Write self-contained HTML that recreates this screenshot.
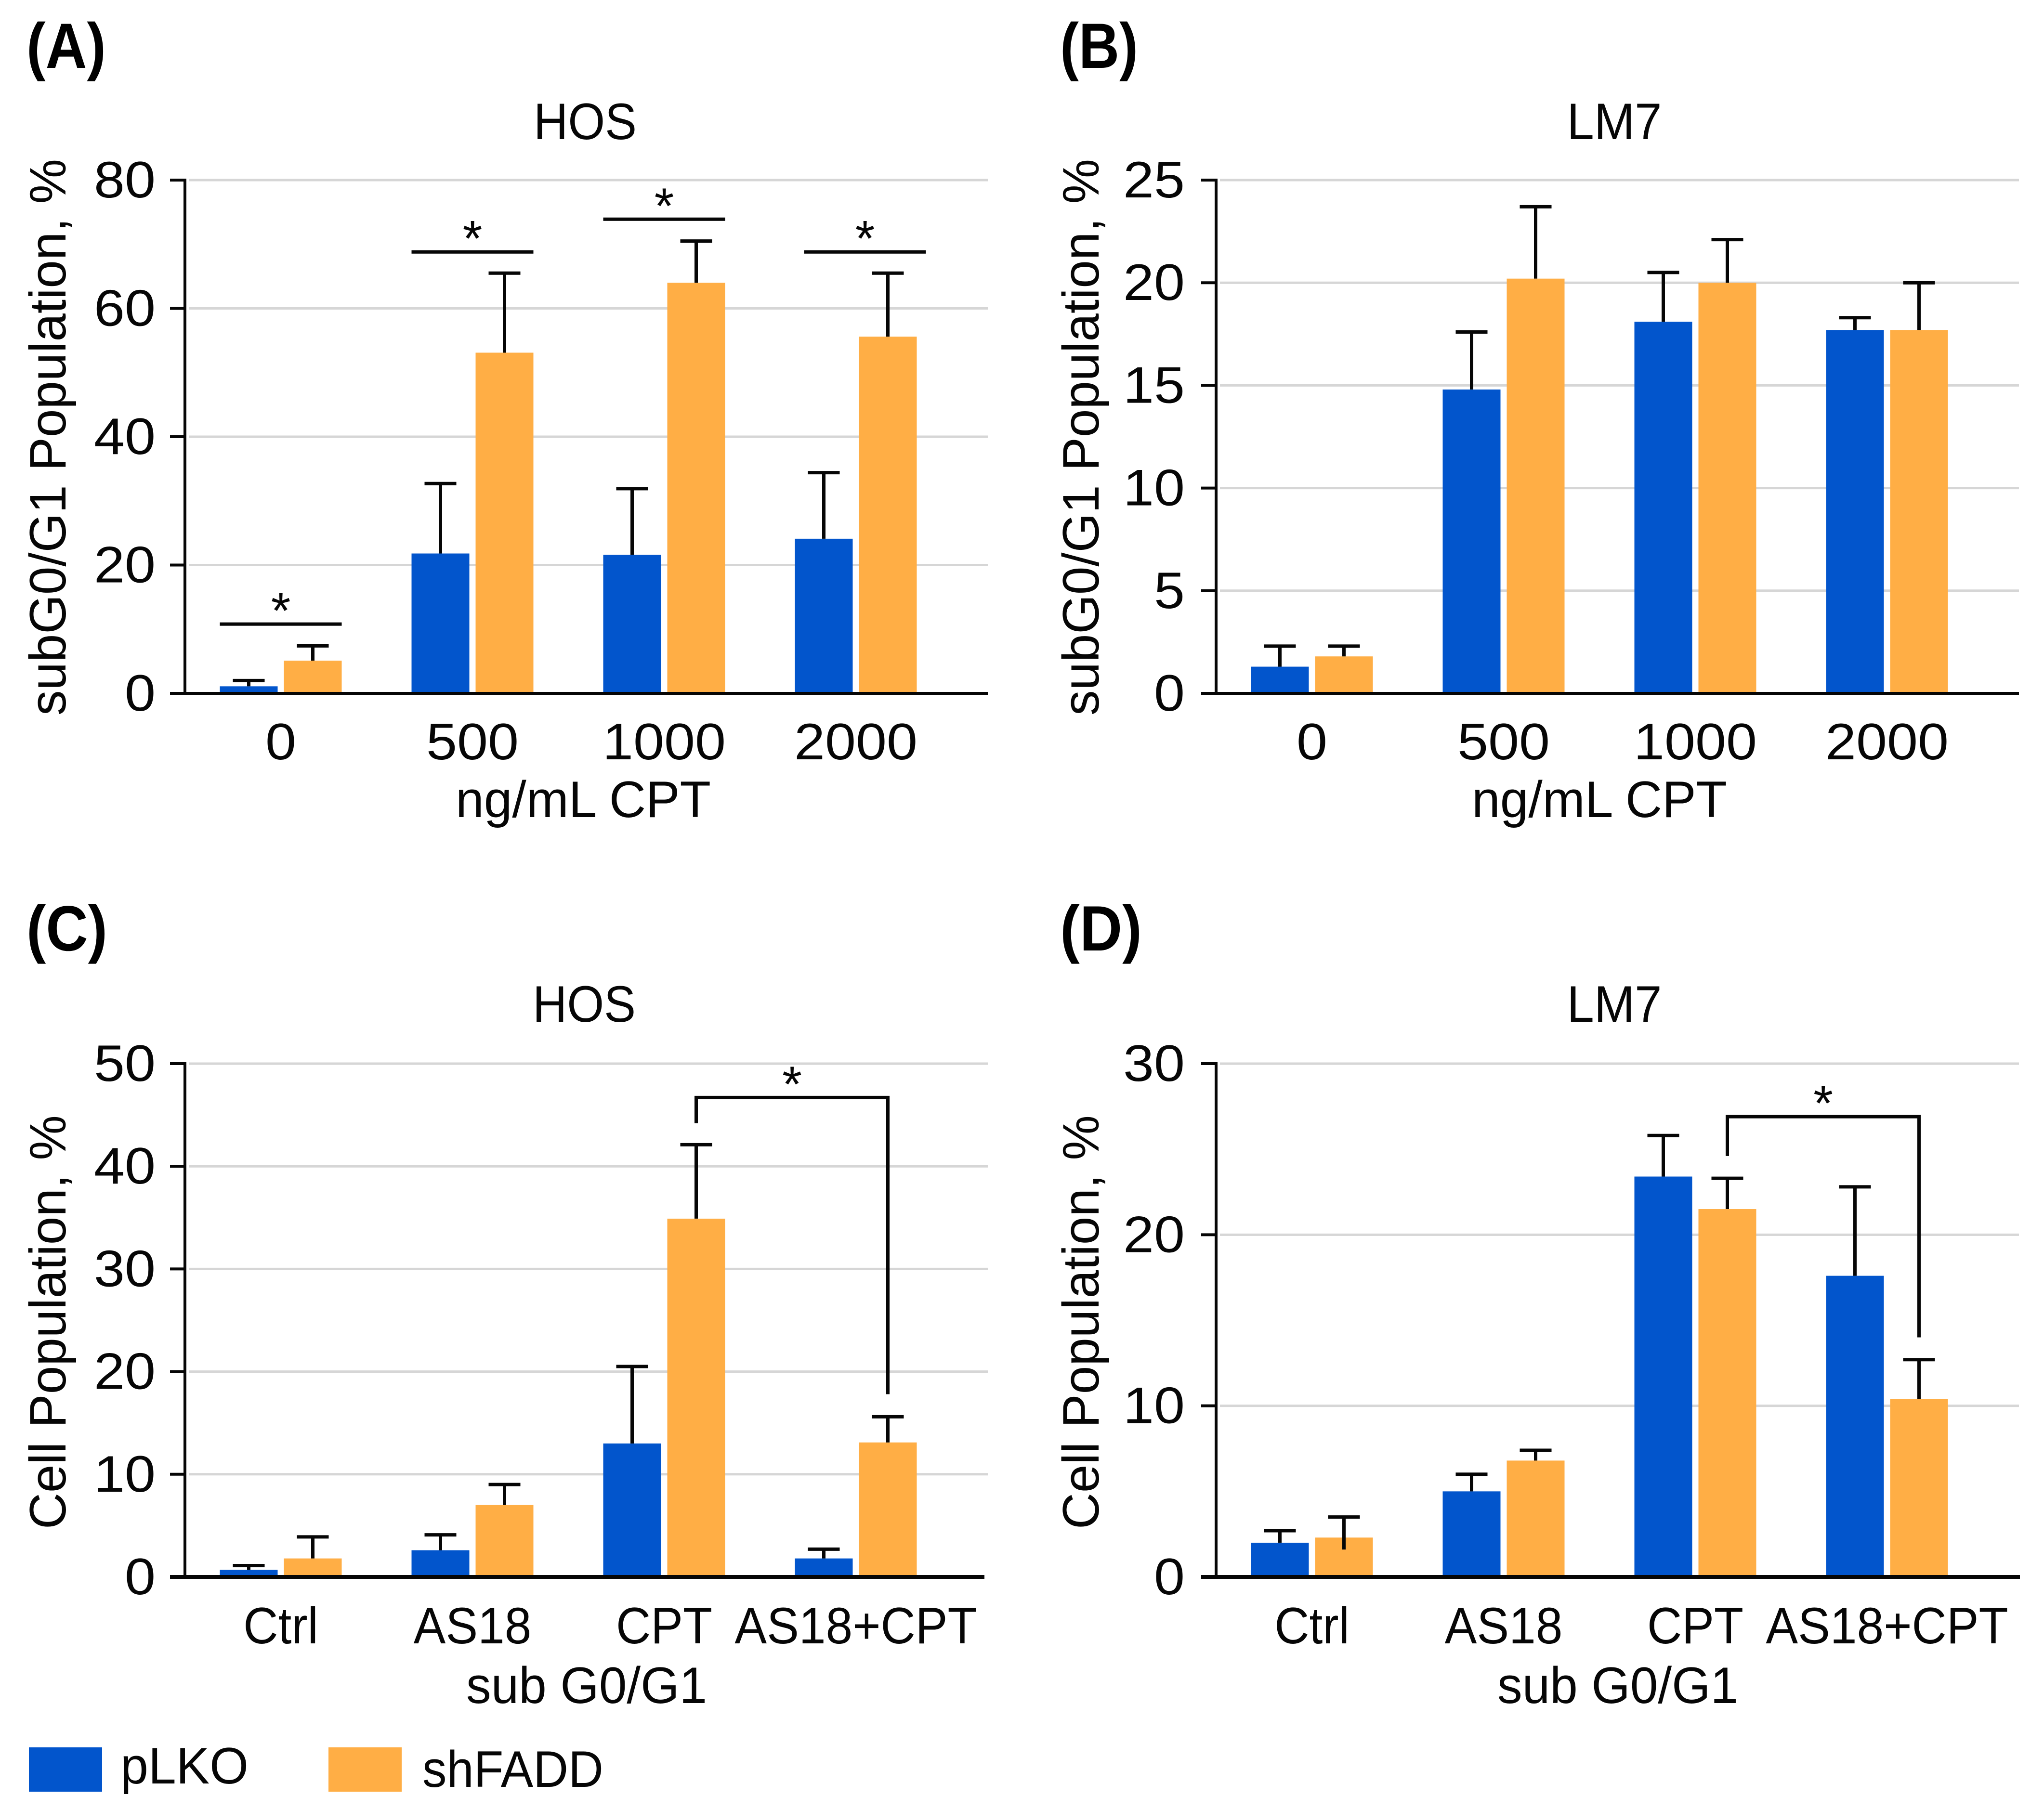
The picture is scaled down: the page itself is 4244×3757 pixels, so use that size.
<!DOCTYPE html>
<html lang="en">
<head>
<meta charset="utf-8">
<title>subG0/G1 population bar charts</title>
<style>
html,body{margin:0;padding:0;background:#fff;}
svg{display:block;}
text{font-family:"Liberation Sans",sans-serif;fill:#060606;}
.panel-label{font-weight:700;font-size:133px;fill:#000;}
.title,.axis-title{font-size:107px;}
.legend-text{font-size:107px;}
</style>
</head>
<body>
<svg id="figure" xmlns="http://www.w3.org/2000/svg" width="4244" height="3757" viewBox="0 0 4244 3757">
  <rect x="0" y="0" width="4244" height="3757" fill="#fff"/>

  <g id="panel-a">
    <text class="panel-label" x="55" y="141" textLength="165" lengthAdjust="spacingAndGlyphs">(A)</text>
    <text class="title" x="1215" y="289" text-anchor="middle" textLength="214" lengthAdjust="spacingAndGlyphs">HOS</text>
    <text class="axis-title" transform="translate(136,908) rotate(-90)" text-anchor="middle" textLength="1156" lengthAdjust="spacingAndGlyphs">subG0/G1 Population, %</text>
    <text class="axis-title" x="1211" y="1697" text-anchor="middle" textLength="530" lengthAdjust="spacingAndGlyphs">ng/mL CPT</text>
  </g>

  <g id="panel-b">
    <text class="panel-label" x="2201" y="141" textLength="162" lengthAdjust="spacingAndGlyphs">(B)</text>
    <text class="title" x="3352" y="289" text-anchor="middle" textLength="197" lengthAdjust="spacingAndGlyphs">LM7</text>
    <text class="axis-title" transform="translate(2281,908) rotate(-90)" text-anchor="middle" textLength="1156" lengthAdjust="spacingAndGlyphs">subG0/G1 Population, %</text>
    <text class="axis-title" x="3321" y="1697" text-anchor="middle" textLength="530" lengthAdjust="spacingAndGlyphs">ng/mL CPT</text>
  </g>

  <g id="panel-c">
    <text class="panel-label" x="55" y="1974" textLength="168" lengthAdjust="spacingAndGlyphs">(C)</text>
    <text class="title" x="1213" y="2122" text-anchor="middle" textLength="214" lengthAdjust="spacingAndGlyphs">HOS</text>
    <text class="axis-title" transform="translate(136,2746) rotate(-90)" text-anchor="middle" textLength="860" lengthAdjust="spacingAndGlyphs">Cell Population, %</text>
    <text class="axis-title" x="1218" y="3537" text-anchor="middle" textLength="500" lengthAdjust="spacingAndGlyphs">sub G0/G1</text>
  </g>

  <g id="panel-d">
    <text class="panel-label" x="2201" y="1974" textLength="170" lengthAdjust="spacingAndGlyphs">(D)</text>
    <text class="title" x="3352" y="2122" text-anchor="middle" textLength="197" lengthAdjust="spacingAndGlyphs">LM7</text>
    <text class="axis-title" transform="translate(2281,2746) rotate(-90)" text-anchor="middle" textLength="860" lengthAdjust="spacingAndGlyphs">Cell Population, %</text>
    <text class="axis-title" x="3359" y="3537" text-anchor="middle" textLength="500" lengthAdjust="spacingAndGlyphs">sub G0/G1</text>
  </g>

  <g id="legend">
    <rect x="60" y="3629" width="152" height="92" fill="#0255cc"/>
    <text class="legend-text" x="250" y="3704" textLength="266" lengthAdjust="spacingAndGlyphs">pLKO</text>
    <rect x="682" y="3629" width="152" height="92" fill="#ffae45"/>
    <text class="legend-text" x="877" y="3711" textLength="376" lengthAdjust="spacingAndGlyphs">shFADD</text>
  </g>
</svg>

<script>
// ---- Panel A data ----
const aCategories = ["0", "500", "1000", "2000"];
const aTicks = [0, 20, 40, 60, 80];
const aBlue = [1.1, 21.8, 21.6, 24.1];
const aOrange = [5.1, 53.1, 64.0, 55.6];
const aBlueErr = [2.0, 32.7, 31.9, 34.4];
const aOrangeErr = [7.4, 65.5, 70.5, 65.5];
const aSigLevels = [10.8, 68.8, 73.9, 68.8];

// ---- Panel B data ----
const bCategories = ["0", "500", "1000", "2000"];
const bTicks = [0, 5, 10, 15, 20, 25];
const bBlue = [1.3, 14.8, 18.1, 17.7];
const bOrange = [1.8, 20.2, 20.0, 17.7];
const bBlueErr = [2.3, 17.6, 20.5, 18.3];
const bOrangeErr = [2.3, 23.7, 22.1, 20.0];

// ---- Panel C data ----
const cCategories = ["Ctrl", "AS18", "CPT", "AS18+CPT"];
const cTicks = [0, 10, 20, 30, 40, 50];
const cBlue = [0.7, 2.6, 13.0, 1.8];
const cOrange = [1.8, 7.0, 34.9, 13.1];
const cBlueErr = [1.1, 4.1, 20.5, 2.7];
const cOrangeErr = [3.9, 9.0, 42.1, 15.6];
const cBracket = [46.7, 44.2, 17.8];

// ---- Panel D data ----
const dCategories = ["Ctrl", "AS18", "CPT", "AS18+CPT"];
const dTicks = [0, 10, 20, 30];
const dBlue = [2.0, 5.0, 23.4, 17.6];
const dOrange = [2.3, 6.8, 21.5, 10.4];
const dBlueErr = [2.7, 6.0, 25.8, 22.8];
const dOrangeErr = [3.5, 7.4, 23.3, 12.7];
const dOrangeErrLow = [1.6, 6.8, 21.5, 10.4];
const dBracket = [26.9, 24.6, 14.0];

const NS = "http://www.w3.org/2000/svg";
const BLUE = "#0255cc";
const ORANGE = "#ffae45";
const INK = "#060606";
const BAR_W = 120;
const BAR_GAP = 13;
const BAND = 398;
const FIRST_CENTER = 199;

function make(tag, parent, attrs, text) {
  const el = document.createElementNS(NS, tag);
  for (const k in attrs) el.setAttribute(k, attrs[k]);
  if (text !== undefined) el.textContent = text;
  parent.appendChild(el);
  return el;
}

function segment(parent, x1, y1, x2, y2, stroke, width) {
  return make("line", parent, { x1: x1, y1: y1, x2: x2, y2: y2, stroke: stroke, "stroke-width": width });
}

function label(parent, x, y, anchor, size, str) {
  const t = make("text", parent, { x: x, y: y, "text-anchor": anchor, "font-size": size }, str);
  if (/^\d+$/.test(str)) {
    t.setAttribute("textLength", str.length * 64);
    t.setAttribute("lengthAdjust", "spacingAndGlyphs");
  }
  return t;
}

function drawPanel(cfg) {
  const g = document.getElementById(cfg.id);
  const maxV = cfg.ticks[cfg.ticks.length - 1];
  const yScale = function (v) { return cfg.base - (v / maxV) * (cfg.base - cfg.top); };
  const xCenter = function (i) { return cfg.axisX + FIRST_CENTER + i * BAND; };
  const blueLeft = function (i) { return xCenter(i) - BAR_GAP / 2 - BAR_W; };
  const orangeLeft = function (i) { return xCenter(i) + BAR_GAP / 2; };

  // gridlines and y ticks
  cfg.ticks.forEach(function (t) {
    const y = yScale(t);
    if (t !== 0) {
      const grid = segment(g, cfg.axisX + 8, y, cfg.gridEnd, y, "#d6d6d6", 5);
      
      
    }
    const tick = segment(g, cfg.axisX - 31, y, cfg.axisX, y, INK, 6);
    
    
    const tl = label(g, cfg.tickEnd, y + 36, "end", 107, String(t));
    
    
  });

  // bars
  cfg.categories.forEach(function (c, i) {
    const by = yScale(cfg.blue[i]);
    const bar1 = make("rect", g, { x: blueLeft(i), y: by, width: BAR_W, height: cfg.base - by, fill: BLUE });
    
    
    const oy = yScale(cfg.orange[i]);
    const bar2 = make("rect", g, { x: orangeLeft(i), y: oy, width: BAR_W, height: cfg.base - oy, fill: ORANGE });
    
    

    // error bars
    const bx = blueLeft(i) + BAR_W / 2;
    const stem1 = segment(g, bx, yScale(cfg.blueErr[i]), bx, by, INK, 7);
    
    
    const cap1 = segment(g, bx - 33, yScale(cfg.blueErr[i]), bx + 33, yScale(cfg.blueErr[i]), INK, 7);
    
    

    const ox = orangeLeft(i) + BAR_W / 2;
    const low = cfg.orangeLow ? cfg.orangeLow[i] : cfg.orange[i];
    const stem2 = segment(g, ox, yScale(cfg.orangeErr[i]), ox, yScale(low), INK, 7);
    
    
    const cap2 = segment(g, ox - 33, yScale(cfg.orangeErr[i]), ox + 33, yScale(cfg.orangeErr[i]), INK, 7);
    
    

    // category label
    const cat = label(g, xCenter(i), cfg.catY, "middle", 107, c);
    
    
    if (!/^\d+$/.test(c)) {
      cat.setAttribute("textLength", cat.getComputedTextLength() * 0.935);
      cat.setAttribute("lengthAdjust", "spacingAndGlyphs");
    }
  });

  // significance lines over single groups
  if (cfg.sigLevels) {
    cfg.sigLevels.forEach(function (v, i) {
      const y = yScale(v);
      const shift = i === 3 ? 19 : 0;
      const line = segment(g, blueLeft(i) + shift, y, orangeLeft(i) + BAR_W + shift, y, INK, 7);
      
      
      const star = label(g, xCenter(i) + shift, y + 8, "middle", 105, "*");
      
      
    });
  }

  // bracket from the third group to the fourth group
  if (cfg.bracket) {
    const xa = orangeLeft(2) + BAR_W / 2;
    const xb = orangeLeft(3) + BAR_W / 2;
    const yTop = yScale(cfg.bracket[0]);
    const path = make("path", g, {
      d: "M" + xa + " " + yScale(cfg.bracket[1]) + "V" + yTop + "H" + xb + "V" + yScale(cfg.bracket[2]),
      fill: "none", stroke: INK, "stroke-width": 7
    });
    
    
    const star = label(g, (xa + xb) / 2, yTop + 8, "middle", 105, "*");
    
    
  }

  // axes
  const yAxis = segment(g, cfg.axisX, cfg.top - 3, cfg.axisX, cfg.base, INK, 6);
  
  
  const xAxis = segment(g, cfg.axisX - 31, cfg.base, cfg.axisEnd, cfg.base, INK, cfg.xAxisWidth);
  
  
}

drawPanel({ id: "panel-a", axisX: 384, top: 374, base: 1440, gridEnd: 2051, axisEnd: 2051, tickEnd: 323, catY: 1577, xAxisWidth: 6,
  categories: aCategories, ticks: aTicks, blue: aBlue, orange: aOrange, blueErr: aBlueErr, orangeErr: aOrangeErr, sigLevels: aSigLevels });
drawPanel({ id: "panel-b", axisX: 2525, top: 374, base: 1440, gridEnd: 4192, axisEnd: 4192, tickEnd: 2460, catY: 1577, xAxisWidth: 6,
  categories: bCategories, ticks: bTicks, blue: bBlue, orange: bOrange, blueErr: bBlueErr, orangeErr: bOrangeErr });
drawPanel({ id: "panel-c", axisX: 384, top: 2209, base: 3275, gridEnd: 2051, axisEnd: 2044, tickEnd: 323, catY: 3413, xAxisWidth: 8,
  categories: cCategories, ticks: cTicks, blue: cBlue, orange: cOrange, blueErr: cBlueErr, orangeErr: cOrangeErr, bracket: cBracket });
drawPanel({ id: "panel-d", axisX: 2525, top: 2209, base: 3275, gridEnd: 4192, axisEnd: 4194, tickEnd: 2460, catY: 3413, xAxisWidth: 8,
  categories: dCategories, ticks: dTicks, blue: dBlue, orange: dOrange, blueErr: dBlueErr, orangeErr: dOrangeErr, orangeLow: dOrangeErrLow, bracket: dBracket });
</script>
</body>
</html>
